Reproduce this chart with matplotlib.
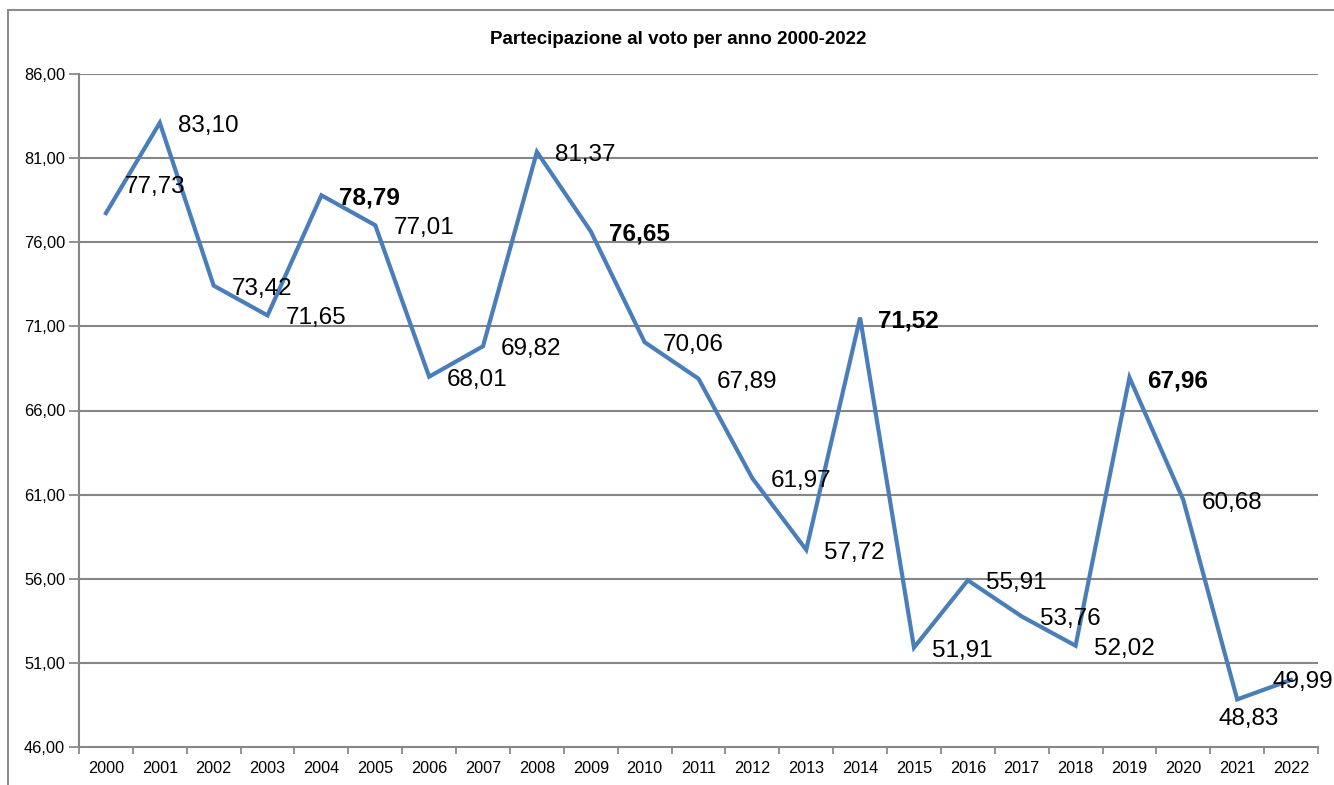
import matplotlib
matplotlib.use("Agg")
import matplotlib.pyplot as plt
from matplotlib.patches import Rectangle

plt.rcParams['font.family'] = ['Liberation Sans', 'DejaVu Sans']

years = [str(y) for y in range(2000, 2023)]
values = [77.73, 83.10, 73.42, 71.65, 78.79, 77.01, 68.01, 69.82, 81.37, 76.65,
          70.06, 67.89, 61.97, 57.72, 71.52, 51.91, 55.91, 53.76, 52.02, 67.96,
          60.68, 48.83, 49.99]
bold_years = ['2004', '2009', '2014', '2019']
y_ticks = [46, 51, 56, 61, 66, 71, 76, 81, 86]
title = "Partecipazione al voto per anno 2000-2022"

# label offsets in pixels (dx, dy, ha)
label_offsets = {'2000': (19, 26, 'left'), '2021': (11, -20, 'center'),
                 '2022': (-19, -2, 'left')}

fig = plt.figure(figsize=(13.34, 7.85), dpi=100)
fig.patch.set_facecolor('white')
fig.patches.append(Rectangle((8/1334, -0.05), 1.2, 1 - 10/785 + 0.05,
                             transform=fig.transFigure, fill=False,
                             edgecolor='#8c8c8c', linewidth=1.5))

ax = fig.add_axes([79/1334, 1 - 747/785, (1318-79)/1334, (747-74)/785])
x = list(range(len(years)))
ax.plot(x, values, color='#4A7EBB', linewidth=3, solid_joinstyle='miter', zorder=3)

for i, (yr, v) in enumerate(zip(years, values)):
    dx, dy, ha = label_offsets.get(yr, (18, -3, 'left'))
    lab = f"{v:.2f}".replace('.', ',')
    ax.annotate(lab, (i, v), xytext=(dx, dy), textcoords='offset pixels',
                ha=ha, va='center', fontsize=17.5,
                fontweight='bold' if yr in bold_years else 'normal',
                color='black', annotation_clip=False, zorder=4)

ax.set_xlim(-0.5, len(years) - 0.5)
ax.set_ylim(46, 86)
ax.set_yticks(y_ticks)
ax.set_yticklabels([f"{t:.2f}".replace('.', ',') for t in y_ticks], fontsize=11.8)
ax.set_xticks(x)
ax.set_xticklabels(years, fontsize=11.7)
ax.set_xticks([i + 0.5 for i in range(-1, len(years))], minor=True)
ax.tick_params(axis='x', which='major', length=0, pad=10)
ax.tick_params(axis='x', which='minor', length=5, color='#808080', width=1.2)
ax.tick_params(axis='y', length=7, color='#808080', width=1.2, pad=3)
for t in y_ticks[1:]:
    ax.axhline(t, color='#868686', linewidth=1.5, zorder=1)
for s in ['top', 'right']:
    ax.spines[s].set_visible(False)
for s in ['left', 'bottom']:
    ax.spines[s].set_color('#868686')
    ax.spines[s].set_linewidth(1.5)

fig.text(678/1334, 1 - 40/785, title, ha='center', va='center',
         fontsize=13.5, fontweight='bold')

fig.savefig('out.png', dpi=100)
